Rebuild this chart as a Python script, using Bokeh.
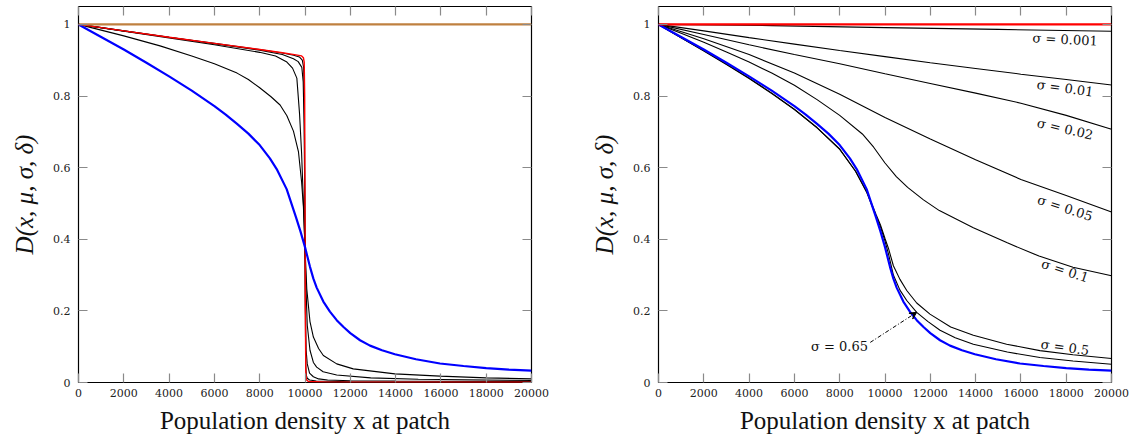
from bokeh.plotting import figure
from bokeh.layouts import row
from bokeh.models import (LinearAxis, FixedTicker, Range1d, Arrow, VeeHead,
                          CustomJSTickFormatter)
from bokeh.embed import file_html
from bokeh.resources import INLINE
from bokeh.core.properties import value

# ---------------- data ----------------
x_ticks = [0, 2000, 4000, 6000, 8000, 10000, 12000, 14000, 16000, 18000, 20000]
y_ticks = [0, 0.2, 0.4, 0.6, 0.8, 1]

# reference level D = 1
flat_x = [0, 20000]
flat_y = [1, 1]

# shared blue curve (both panels)
blue_x = [0, 1000, 2000, 3000, 4000, 5000, 6000, 6500, 7000, 7500, 8000, 8450, 8750, 9190, 9600, 9800,
          10000, 10220, 10370, 10515, 10810, 11100, 11400, 11700, 12000, 12430, 12870,
          13400, 13970, 14900, 15960, 17000, 18000, 19000, 20000]
blue_y = [1, 0.965, 0.93, 0.893, 0.855, 0.815, 0.772, 0.748, 0.722, 0.695, 0.663, 0.626, 0.596, 0.54, 0.462, 0.422,
          0.378, 0.323, 0.29, 0.265, 0.226, 0.198, 0.174, 0.155, 0.138, 0.118, 0.103,
          0.09, 0.079, 0.065, 0.053, 0.046, 0.04, 0.036, 0.033]

# left panel: near step-like curves
red_x = [0, 2000, 4000, 6000, 8000, 9000, 9600, 9850, 9930, 9965, 9985, 10000,
         10015, 10035, 10060, 10150, 11000, 20000]
red_y = [1, 0.982, 0.964, 0.947, 0.93, 0.921, 0.915, 0.912, 0.907, 0.895, 0.8, 0.5,
         0.2, 0.03, 0.008, 0.003, 0.001, 0.0005]

blkA_x = [0, 2000, 4000, 6000, 8000, 9000, 9500, 9750, 9880, 9940, 9970, 10000,
          10030, 10060, 10100, 10200, 10500, 12000, 20000]
blkA_y = [1, 0.982, 0.964, 0.947, 0.93, 0.92, 0.914, 0.909, 0.9, 0.88, 0.8, 0.376,
          0.05, 0.02, 0.012, 0.007, 0.004, 0.002, 0.001]

blkB_x = [0, 2000, 4000, 6000, 8000, 9000, 9490, 9700, 9860, 9920, 9960, 9985,
          10000, 10020, 10050, 10100, 10200, 10370, 10600, 11000, 12000, 14000, 20000]
blkB_y = [1, 0.982, 0.964, 0.946, 0.928, 0.916, 0.904, 0.896, 0.88, 0.84, 0.72, 0.55,
          0.376, 0.2, 0.09, 0.052, 0.026, 0.016, 0.01, 0.0068, 0.0048, 0.004, 0.003]

blkC_x = [0, 2000, 4000, 6000, 8000, 8700, 9200, 9450, 9640, 9760, 9850, 9920, 9965, 10000,
          10040, 10100, 10220, 10370, 10515, 10800, 11400, 12900, 15000, 20000]
blkC_y = [1, 0.981, 0.962, 0.943, 0.922, 0.912, 0.895, 0.878, 0.85, 0.75, 0.64, 0.52, 0.44, 0.376,
          0.27, 0.16, 0.09, 0.056, 0.043, 0.03, 0.021, 0.013, 0.009, 0.0056]

blkD_x = [0, 2000, 3600, 5000, 6000, 7000, 7500, 8000, 8500, 8900, 9200, 9490, 9710, 9850, 9930,
          10000, 10080, 10220, 10370, 10600, 10810, 11400, 12130, 13970, 15960, 18000, 20000]
blkD_y = [1, 0.968, 0.94, 0.912, 0.89, 0.864, 0.846, 0.823, 0.798, 0.775, 0.745, 0.702, 0.645, 0.56, 0.49,
          0.376, 0.26, 0.17, 0.127, 0.095, 0.0755, 0.052, 0.038, 0.024, 0.0177, 0.013, 0.010]

# right panel: curves for increasing sigma
s0001_x = [0, 5000, 10000, 15000, 20000]
s0001_y = [1, 0.9965, 0.991, 0.986, 0.981]

s001_x = [0, 2000, 4000, 6000, 8000, 10000, 12000, 14000, 16000, 18000, 20000]
s001_y = [1, 0.982, 0.963, 0.945, 0.927, 0.91, 0.893, 0.877, 0.861, 0.846, 0.831]

s002_x = [0, 2000, 4000, 6000, 8000, 10000, 12000, 14000, 16000, 18000, 20000]
s002_y = [1, 0.972, 0.943, 0.916, 0.89, 0.862, 0.835, 0.808, 0.78, 0.746, 0.707]

s005_x = [0, 2000, 4000, 6000, 8000, 10000, 12000, 14000, 16000, 18000, 20000]
s005_y = [1, 0.96, 0.916, 0.864, 0.805, 0.74, 0.68, 0.622, 0.567, 0.522, 0.476]

s01_x = [0, 1000, 2000, 3000, 4000, 5000, 6000, 7000, 8000, 9000, 9500, 10000,
         10500, 11000, 11700, 12400, 13900, 15400, 16800, 18300, 20000]
s01_y = [1, 0.975, 0.95, 0.923, 0.895, 0.864, 0.83, 0.79, 0.746, 0.694, 0.657, 0.613,
         0.575, 0.545, 0.51, 0.48, 0.432, 0.39, 0.353, 0.322, 0.298]

s05_x = [0, 1000, 2000, 3000, 4000, 5000, 6000, 7000, 8000, 8700, 9200, 9600, 9800, 10000,
         10150, 10370, 10660, 10960, 11400, 11985, 12900, 13900, 15370, 16840, 18300, 20000]
s05_y = [1, 0.963, 0.926, 0.888, 0.849, 0.807, 0.762, 0.711, 0.651, 0.59, 0.532, 0.47, 0.44, 0.402,
         0.375, 0.326, 0.288, 0.257, 0.222, 0.191, 0.155, 0.132, 0.107, 0.089, 0.0775, 0.067]

s065_x = [0, 1000, 2000, 3000, 4000, 5000, 6000, 7000, 8000, 8700, 9200, 9600, 9800, 10000,
          10150, 10370, 10660, 10960, 11400, 11900, 12430, 13100, 13900, 15400, 16840, 18300, 20000]
s065_y = [1, 0.963, 0.927, 0.889, 0.85, 0.808, 0.763, 0.712, 0.652, 0.59, 0.53, 0.465, 0.435, 0.395,
          0.36, 0.3, 0.258, 0.229, 0.196, 0.17, 0.146, 0.125, 0.107, 0.085, 0.07, 0.06, 0.051]

sigma_labels = ["σ = 0.001", "σ = 0.01", "σ = 0.02", "σ = 0.05", "σ = 0.1", "σ = 0.5"]

SERIF = "Liberation Serif"
TICKFONT = "DejaVu Serif"


def frame_axes(p):
    """pgfplots-like box: inward ticks on all four sides."""
    top = LinearAxis()
    side = LinearAxis()
    p.add_layout(top, "above")
    p.add_layout(side, "right")
    bottom = p.below[0]
    left_ax = p.left[0]
    for ax in (top, bottom):
        ax.ticker = FixedTicker(ticks=x_ticks)
    for ax in (side, left_ax):
        ax.ticker = FixedTicker(ticks=y_ticks)
    for ax in (top, bottom, side, left_ax):
        ax.major_tick_in = 9
        ax.major_tick_out = 0
        ax.minor_tick_line_color = None
        ax.major_tick_line_color = "#8a8a8a"
        ax.major_tick_line_width = 1.2
        ax.axis_line_color = None
        ax.formatter = CustomJSTickFormatter(code="return tick.toString();")
        ax.major_label_text_font = TICKFONT
        ax.major_label_text_font_size = "11px"
        ax.major_label_text_color = "#222222"
    # the top and right copies only carry tick marks
    for ax in (top, side):
        ax.major_label_text_color = None
        ax.major_label_text_font_size = "1px"
        ax.major_label_standoff = 0
        ax.axis_label = None
    bottom.major_label_standoff = 6
    left_ax.major_label_standoff = 8
    bottom.axis_label = "Population density x at patch"
    left_ax.axis_label = "D(x, μ, σ, δ)"
    for ax in (bottom, left_ax):
        ax.axis_label_text_font = SERIF
        ax.axis_label_text_font_size = "25px"
        ax.axis_label_text_font_style = "normal"
        ax.axis_label_text_color = "#111111"
    left_ax.axis_label_text_font_style = "italic"
    left_ax.axis_label_standoff = 12
    bottom.axis_label_standoff = 7
    p.outline_line_color = "black"
    p.outline_line_width = 1.2
    p.grid.visible = False


def make_panel(border_left, border_right):
    p = figure(frame_width=453, frame_height=376,
               x_range=Range1d(0, 20000), y_range=Range1d(0, 1.05),
               min_border_left=border_left, min_border_right=border_right,
               min_border_top=6, min_border_bottom=61,
               output_backend="svg", toolbar_location=None,
               background_fill_color="white", border_fill_color="white")
    frame_axes(p)
    return p


# ---------------- left panel ----------------
left = make_panel(78, 37)
for xs, ys in ((blkA_x, blkA_y), (blkB_x, blkB_y), (blkC_x, blkC_y), (blkD_x, blkD_y)):
    left.line(xs, ys, line_color="black", line_width=1.1)
left.line(red_x, red_y, line_color="#ff0000", line_width=1.4)
left.line(blue_x, blue_y, line_color="#0000ff", line_width=2.2)
left.line(flat_x, flat_y, line_color="#bf8040", line_width=2.2)

# ---------------- right panel ----------------
right = make_panel(90, 25)
for xs, ys in ((s0001_x, s0001_y), (s001_x, s001_y), (s002_x, s002_y), (s005_x, s005_y),
               (s01_x, s01_y), (s05_x, s05_y), (s065_x, s065_y)):
    right.line(xs, ys, line_color="black", line_width=1.1)
right.line(blue_x, blue_y, line_color="#0000ff", line_width=2.2)
right.line(flat_x, flat_y, line_color="#ff0000", line_width=2.2)

# sloped labels sitting just under their curves
lab_x = [17950, 17950, 17950, 17950, 17950, 17950]
lab_y = [0.958, 0.822, 0.708, 0.487, 0.312, 0.098]
lab_deg = [-3, -8, -13, -18, -18, -8]
right.text(x=lab_x, y=lab_y, text=sigma_labels,
           angle=[d * 3.14159265 / 180 for d in lab_deg],
           text_font=value(TICKFONT), text_font_size="13px",
           text_align="center", text_baseline="middle", text_color="#111111")

right.text(x=[7991], y=[0.101], text=["σ = 0.65"],
           text_font=value(TICKFONT), text_font_size="13px",
           text_align="center", text_baseline="middle", text_color="#111111")
right.add_layout(Arrow(x_start=9350, y_start=0.112, x_end=11400, y_end=0.196,
                       line_color="black", line_width=1, line_dash="4 2 1 2",
                       end=VeeHead(size=7, line_color="black", line_width=1,
                                   fill_color="black")))

layout = row(left, right)
open("out.html", "w").write(file_html(layout, INLINE))
